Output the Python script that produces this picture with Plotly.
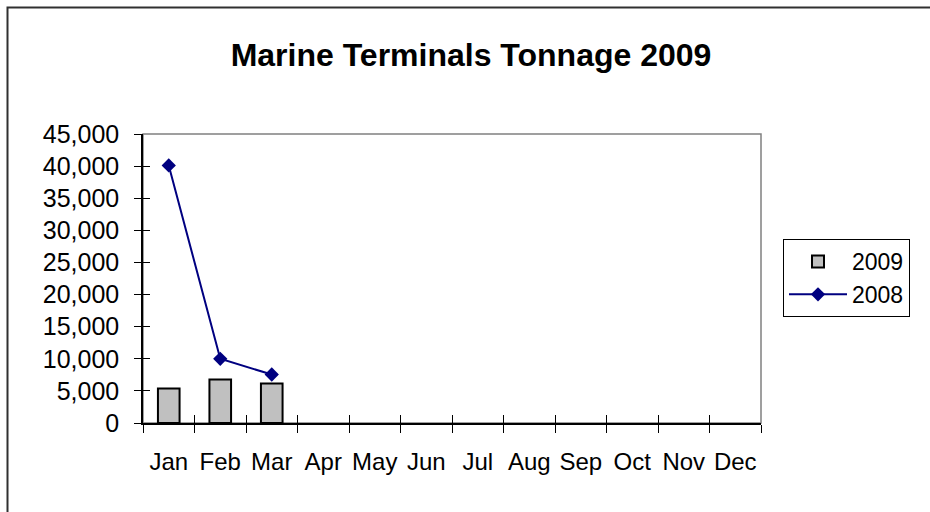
import plotly.graph_objects as go

months = ["Jan", "Feb", "Mar", "Apr", "May", "Jun", "Jul", "Aug", "Sep", "Oct", "Nov", "Dec"]
tonnage_2009 = [5365, 6770, 6146, None, None, None, None, None, None, None, None, None]
tonnage_2008 = [40100, 10000, 7550, None, None, None, None, None, None, None, None, None]
y_ticks = [0, 5000, 10000, 15000, 20000, 25000, 30000, 35000, 40000, 45000]

FONT = "Arial, Liberation Sans, Helvetica, sans-serif"

fig = go.Figure()
fig.add_trace(go.Bar(
    x=months, y=tonnage_2009, name="2009",
    marker=dict(color="#c0c0c0", line=dict(color="black", width=2)),
    width=0.42, xaxis="x", yaxis="y",
))
fig.add_trace(go.Scatter(
    x=months, y=tonnage_2008, name="2008", mode="lines+markers",
    line=dict(color="#000080", width=2),
    marker=dict(symbol="diamond", size=11, color="#000080"),
    xaxis="x2", yaxis="y2", connectgaps=False,
))

W, H = 930, 512
L, R, T, B = 143, 761, 134, 423
pw, ph = R - L, B - T

def px_x(p):
    return (p - L) / pw

def px_y(p):
    return (B - p) / ph

fig.update_layout(
    width=W, height=H,
    margin=dict(l=L, r=W - R, t=T, b=H - B, pad=0),
    paper_bgcolor="white", plot_bgcolor="white",
    font=dict(family=FONT, size=23, color="black"),
    title=dict(text="<b>Marine Terminals Tonnage 2009</b>",
               font=dict(family=FONT, size=32, color="black"),
               x=471 / W, xanchor="center", xref="container",
               y=1 - 55 / H, yanchor="middle", yref="container"),
    showlegend=True,
    legend=dict(x=px_x(783), y=px_y(239), xanchor="left", yanchor="top",
                bordercolor="black", borderwidth=1, bgcolor="white",
                font=dict(family=FONT, size=23), itemwidth=58,
                tracegroupgap=4),
    bargap=0.58,
    xaxis=dict(type="category", categoryorder="array", categoryarray=months,
               range=[-0.5, 11.5], tickson="boundaries", ticks="outside",
               ticklen=8, tickwidth=1, tickcolor="black", showline=True,
               linecolor="black", linewidth=1.5, showgrid=False, zeroline=False,
               tickangle=0,
               tickfont=dict(family=FONT, size=24), ticklabelstandoff=16),
    xaxis2=dict(type="category", categoryorder="array", categoryarray=months,
                overlaying="x", range=[-0.5, 11.5], tickson="boundaries",
                ticks="inside", ticklen=8, tickwidth=1, tickcolor="black",
                showticklabels=False, showline=False, showgrid=False,
                zeroline=False, side="bottom"),
    yaxis=dict(range=[0, 45000], tickvals=y_ticks, tickformat=",d",
               ticks="outside", ticklen=7, tickwidth=1, tickcolor="black",
               showline=True, linecolor="black", linewidth=1.5, showgrid=False,
               zeroline=False, tickfont=dict(family=FONT, size=25),
               ticklabelstandoff=10),
    yaxis2=dict(range=[0, 45000], tickvals=y_ticks, overlaying="y",
                ticks="inside", ticklen=7, tickwidth=1, tickcolor="black",
                showticklabels=False, showline=False, showgrid=False,
                zeroline=False),
    shapes=[
        dict(type="rect", xref="paper", yref="paper", x0=0, x1=1, y0=0, y1=1,
             line=dict(color="#808080", width=1.5), layer="below"),
        dict(type="rect", xref="paper", yref="paper",
             x0=px_x(7.5), x1=px_x(W + 20), y0=px_y(H + 20), y1=px_y(7.5),
             line=dict(color="#303030", width=2), layer="below"),
    ],
)

fig.write_html("out.html", config={"displayModeBar": False},
               post_script="document.body.style.margin='0px';")
